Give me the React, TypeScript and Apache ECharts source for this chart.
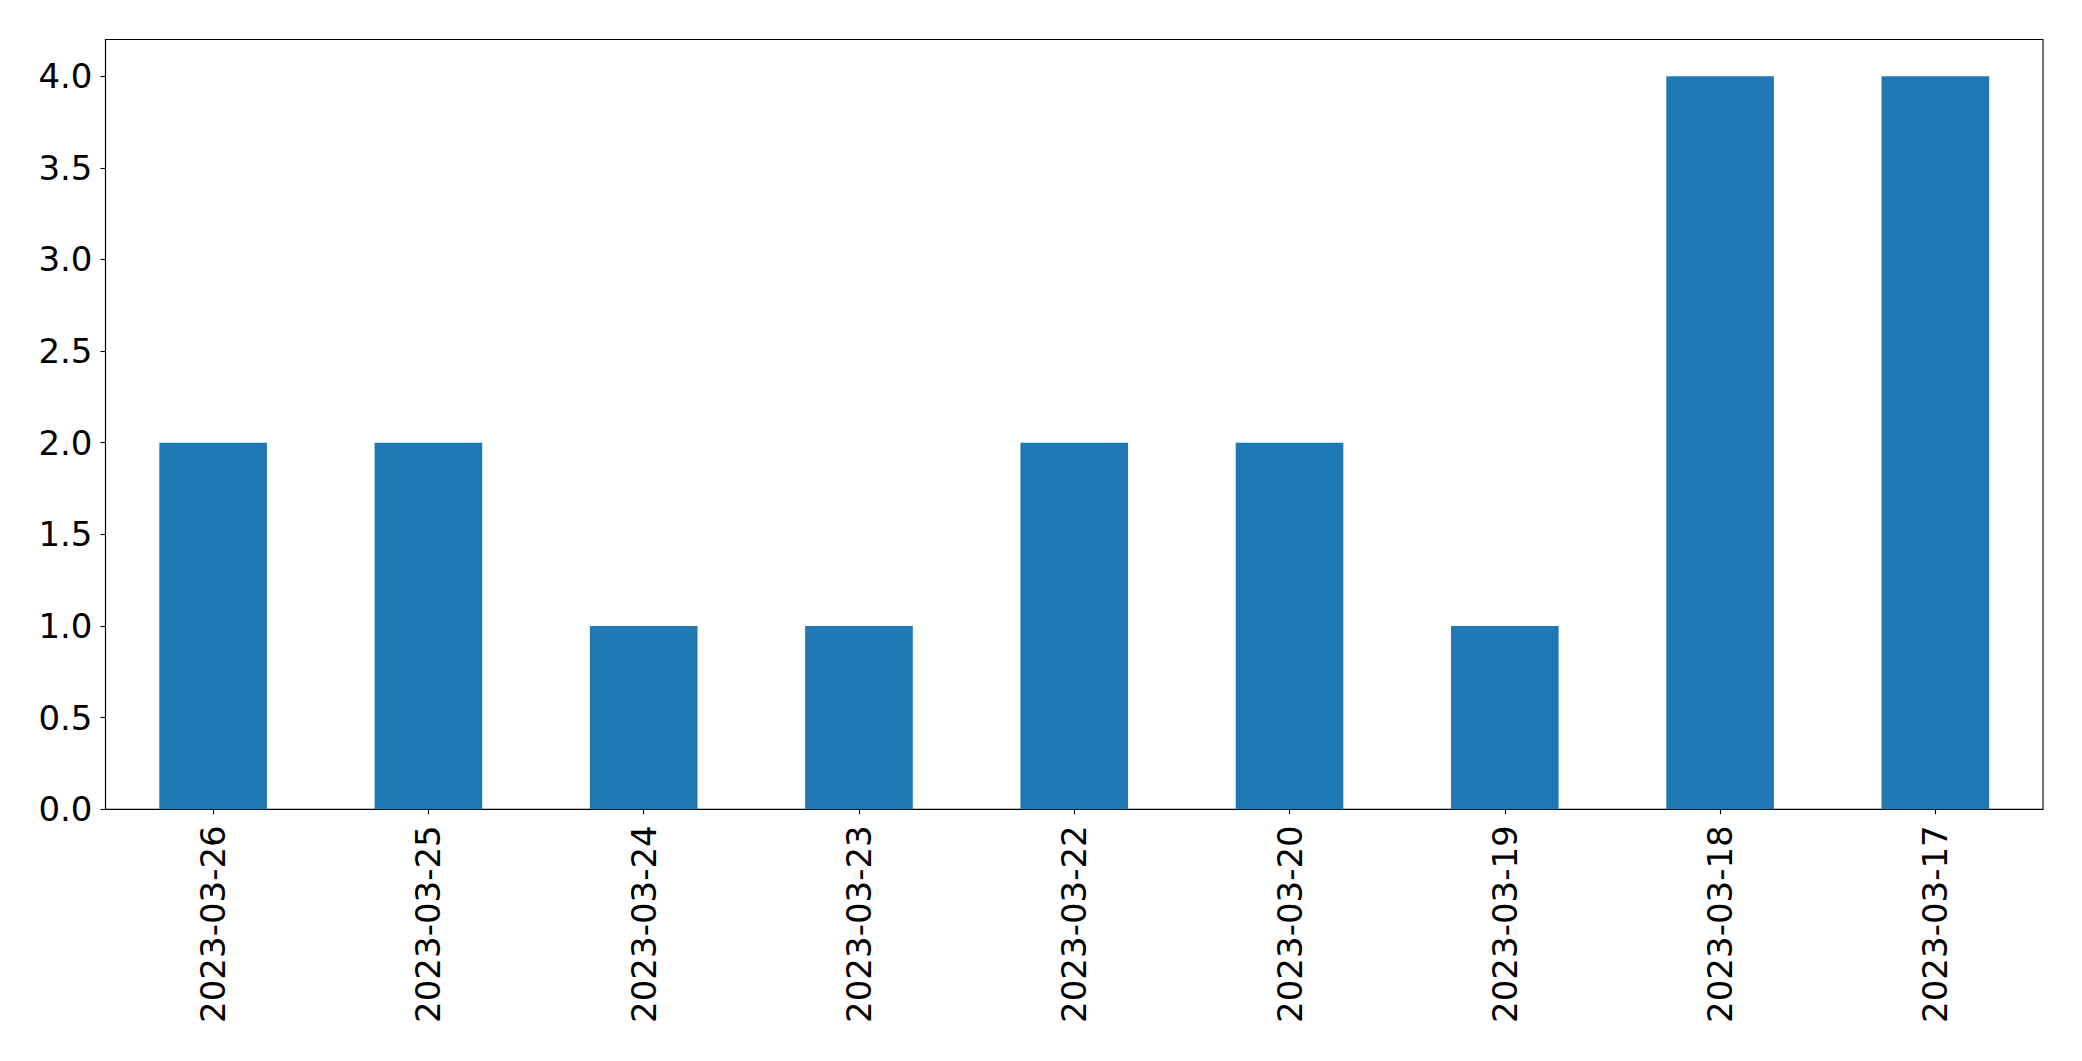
import React, { useEffect, useRef } from "react";
import * as echarts from "echarts";

const categories = [
  "2023-03-26",
  "2023-03-25",
  "2023-03-24",
  "2023-03-23",
  "2023-03-22",
  "2023-03-20",
  "2023-03-19",
  "2023-03-18",
  "2023-03-17",
];
const values = [2, 2, 1, 1, 2, 2, 1, 4, 4];
const yTicks = [0, 0.5, 1, 1.5, 2, 2.5, 3, 3.5, 4];

export default function App() {
  const ref = useRef<HTMLDivElement>(null);
  useEffect(() => {
    document.body.style.margin = "0";
    const chart = echarts.init(ref.current!, null, { renderer: "svg" });
    const font = "DejaVu Sans";
    chart.setOption({
      animation: false,
      backgroundColor: "#ffffff",
      grid: {
        left: 105.5,
        right: 39,
        top: 39.5,
        bottom: 251.7,
        show: true,
        borderColor: "#000000",
        borderWidth: 1.1,
        backgroundColor: "transparent",
      },
      xAxis: {
        type: "category",
        data: categories,
        boundaryGap: true,
        axisLine: { show: true, lineStyle: { color: "#000", width: 1.1 } },
        axisTick: {
          show: true,
          alignWithLabel: true,
          length: 5,
          lineStyle: { color: "#000", width: 1.1 },
        },
        axisLabel: {
          rotate: 90,
          margin: 16,
          fontSize: 34,
          fontFamily: font,
          color: "#000",
          interval: 0,
        },
        splitLine: { show: false },
      },
      yAxis: {
        type: "value",
        min: 0,
        max: 4.2,
        interval: 0.5,
        axisLine: { show: true, lineStyle: { color: "#000", width: 1.1 } },
        axisTick: {
          show: true,
          length: 5,
          lineStyle: { color: "#000", width: 1.1 },
          customValues: yTicks,
        },
        axisLabel: {
          margin: 13,
          fontSize: 34,
          fontFamily: font,
          color: "#000",
          customValues: yTicks,
          formatter: (v: number) => v.toFixed(1),
        },
        splitLine: { show: false },
      },
      series: [
        {
          type: "bar",
          data: values,
          barWidth: "50%",
          itemStyle: { color: "#1f77b4" },
        },
      ],
    });
    return () => chart.dispose();
  }, []);
  return <div ref={ref} style={{ width: 2082, height: 1061 }} />;
}
